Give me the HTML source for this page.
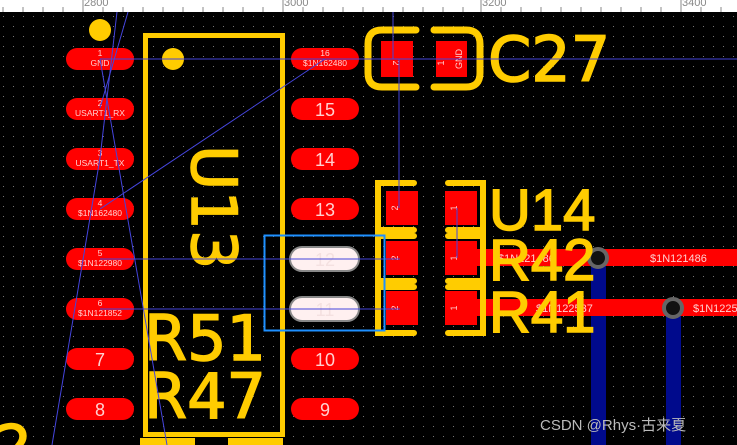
<!DOCTYPE html>
<html><head><meta charset="utf-8"><style>
html,body{margin:0;padding:0;background:#000;width:737px;height:445px;overflow:hidden}
svg{display:block}
text{font-family:"Liberation Sans","DejaVu Sans",sans-serif}
.m{font-family:"DejaVu Sans Mono","Liberation Mono",monospace;fill:#ffd0d0}
.y{fill:#ffcc00;stroke:#ffcc00;stroke-width:1.5;font-family:"DejaVu Sans","Liberation Sans",sans-serif}
</style></head><body>
<svg width="737" height="445" viewBox="0 0 737 445" xmlns="http://www.w3.org/2000/svg">
<defs>
<pattern id="g" x="3" y="6" width="10" height="10" patternUnits="userSpaceOnUse"><rect x="0" y="0" width="1" height="1" fill="#777"/></pattern>
<clipPath id="c"><rect width="737" height="445"/></clipPath>
</defs>
<g clip-path="url(#c)">
<rect width="737" height="445" fill="#000"/>
<rect y="12" width="737" height="433" fill="url(#g)"/>
<rect width="737" height="12" fill="#fff"/>
<g stroke="#888" stroke-width="1">
<path d="M3 7V12M23 7V12M43 7V12M63 7V12M103 7V12M123 7V12M143 7V12M163 7V12M183 7V12M203 7V12M223 7V12M243 7V12M263 7V12M303 7V12M323 7V12M343 7V12M363 7V12M383 7V12M403 7V12M423 7V12M443 7V12M463 7V12M501 7V12M521 7V12M541 7V12M561 7V12M581 7V12M601 7V12M621 7V12M641 7V12M661 7V12M701 7V12M721 7V12"/>
<path d="M83 0V12M283 0V12M481 0V12M681 0V12"/>
</g>
<g font-size="11" fill="#888"><text x="84" y="6">2800</text><text x="284" y="6">3000</text><text x="482" y="6">3200</text><text x="682" y="6">3400</text></g>

<rect x="591" y="258" width="15" height="187" fill="#000a8c"/>
<rect x="666" y="308" width="15" height="137" fill="#000a8c"/>
<rect x="470" y="249" width="267" height="17" fill="#f00"/>
<rect x="470" y="299" width="267" height="17" fill="#f00"/>
<g class="m" font-size="11"><text x="498" y="262">$1N121486</text><text x="650" y="262">$1N121486</text><text x="536" y="312">$1N122537</text><text x="693" y="312">$1N122537</text></g>
<circle cx="598" cy="258" r="9" fill="#111" stroke="#666" stroke-width="4"/>
<circle cx="673" cy="308" r="9" fill="#111" stroke="#666" stroke-width="4"/>

<rect x="145.5" y="35.5" width="137" height="399" fill="none" stroke="#ffcc00" stroke-width="5"/>
<rect x="140" y="438" width="55" height="10" fill="#ffcc00"/>
<rect x="228" y="438" width="55" height="10" fill="#ffcc00"/>
<circle cx="173" cy="59" r="11" fill="#ffcc00"/>
<circle cx="100" cy="30" r="11" fill="#ffcc00"/>

<g fill="#f00">
<rect x="66" y="48" width="68" height="22" rx="11"/>
<rect x="66" y="98" width="68" height="22" rx="11"/>
<rect x="66" y="148" width="68" height="22" rx="11"/>
<rect x="66" y="198" width="68" height="22" rx="11"/>
<rect x="66" y="248" width="68" height="22" rx="11"/>
<rect x="66" y="298" width="68" height="22" rx="11"/>
<rect x="66" y="348" width="68" height="22" rx="11"/>
<rect x="66" y="398" width="68" height="22" rx="11"/>
<rect x="291" y="48" width="68" height="22" rx="11"/>
<rect x="291" y="98" width="68" height="22" rx="11"/>
<rect x="291" y="148" width="68" height="22" rx="11"/>
<rect x="291" y="198" width="68" height="22" rx="11"/>
<rect x="291" y="348" width="68" height="22" rx="11"/>
<rect x="291" y="398" width="68" height="22" rx="11"/>
</g>
<rect x="290" y="247" width="69" height="24" rx="12" fill="#fff0f0" stroke="#888" stroke-width="2"/>
<rect x="290" y="297" width="69" height="24" rx="12" fill="#fff0f0" stroke="#888" stroke-width="2"/>
<g class="m" font-size="8.5" text-anchor="middle">
<text x="100" y="56">1</text><text x="100" y="66">GND</text>
<text x="100" y="106">2</text><text x="100" y="116">USART1_RX</text>
<text x="100" y="156">3</text><text x="100" y="166">USART1_TX</text>
<text x="100" y="206">4</text><text x="100" y="216">$1N162480</text>
<text x="100" y="256">5</text><text x="100" y="266">$1N122980</text>
<text x="100" y="306">6</text><text x="100" y="316">$1N121852</text>
<text x="325" y="56">16</text><text x="325" y="66">$1N162480</text>
</g>
<g class="m" font-size="18" text-anchor="middle">
<text x="100" y="366">7</text><text x="100" y="416">8</text>
<text x="325" y="116">15</text><text x="325" y="166">14</text><text x="325" y="216">13</text>
<text x="325" y="266" fill="#f4e0e0">12</text><text x="325" y="316" fill="#f4e0e0">11</text>
<text x="325" y="366">10</text><text x="325" y="416">9</text>
</g>

<path d="M416 30H382Q368 30 368 44V73Q368 87 382 87H416" fill="none" stroke="#ffcc00" stroke-width="7" stroke-linecap="round"/>
<path d="M434 30H466Q480 30 480 44V73Q480 87 466 87H434" fill="none" stroke="#ffcc00" stroke-width="7" stroke-linecap="round"/>
<rect x="381" y="41" width="32" height="36" fill="#f00"/>
<rect x="436" y="41" width="31" height="36" fill="#f00"/>
<g class="m" font-size="9"><text transform="translate(393,63) rotate(90)" text-anchor="middle">2</text><text transform="translate(444,63) rotate(-90)" text-anchor="middle">1</text><text transform="translate(462,59) rotate(-90)" text-anchor="middle">GND</text></g>
<text class="y" x="488" y="81" font-size="62">C27</text>

<g fill="none" stroke="#ffcc00" stroke-width="6" stroke-linecap="round">
<path d="M414 183H378V230H414M414 236H378V281H414M414 287H378V333H414"/>
<path d="M448 183H483V230H448M448 236H483V281H448M448 287H483V333H448"/>
</g>
<g fill="#f00">
<rect x="386" y="191" width="32" height="34"/><rect x="445" y="191" width="32" height="34"/>
<rect x="386" y="241" width="32" height="34"/><rect x="445" y="241" width="32" height="34"/>
<rect x="386" y="291" width="32" height="34"/><rect x="445" y="291" width="32" height="34"/>
</g>
<g class="m" font-size="9" text-anchor="middle">
<text transform="translate(398,208) rotate(-90)">2</text><text transform="translate(457,208) rotate(-90)">1</text>
<text transform="translate(398,258) rotate(-90)">2</text><text transform="translate(457,258) rotate(-90)">1</text>
<text transform="translate(398,308) rotate(-90)">2</text><text transform="translate(457,308) rotate(-90)">1</text>
</g>
<g class="y" font-size="58"><text x="489" y="230">U14</text><text x="489" y="280">R42</text><text x="489" y="332">R41</text></g>

<text class="y" font-size="62" transform="translate(192,145) rotate(90)">U13</text>
<text class="y" x="144" y="360" font-size="62">R51</text>
<text class="y" x="144" y="418" font-size="62">R47</text>
<text class="y" x="-6" y="468" font-size="60">2</text>

<g stroke="#4444dd" stroke-width="1" fill="none">
<path d="M100 59H737"/>
<path d="M100 259H400"/>
<path d="M100 309H400"/>
<path d="M100 209L325 59"/>
<path d="M117 12L100 158L52 445"/>
<path d="M128 12L100 108"/>
<path d="M100 59L167 445"/>
<path d="M393 12V59M399 59V208M457 208V258"/>
</g>

<rect x="264.5" y="235.5" width="120" height="95" fill="none" stroke="#1e90ff" stroke-width="2"/>
<text x="540" y="430" font-size="15" fill="#bbb" font-family="'Liberation Sans','Noto Sans CJK SC',sans-serif">CSDN @Rhys·古来夏</text>
</g>
</svg>
</body></html>
